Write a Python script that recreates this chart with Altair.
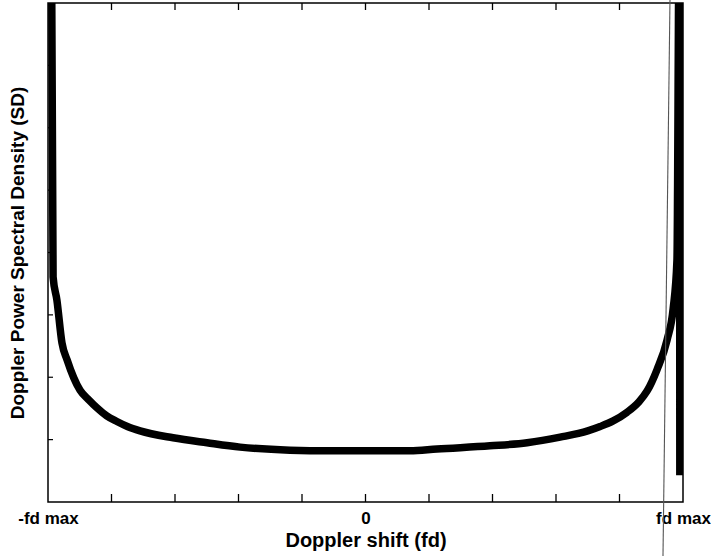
import altair as alt
import pandas as pd

# Curve (x: Doppler shift in units of fd max, y: relative PSD)
shift = [-0.989, -0.984, -0.972, -0.956, -0.940, -0.899, -0.870, -0.846, -0.815,
         -0.783, -0.750, -0.710, -0.606, -0.499, -0.395, -0.238, -0.112, 0.046,
         0.140, 0.225, 0.392, 0.509, 0.613, 0.700, 0.739, 0.780, 0.824, 0.860,
         0.887, 0.918, 0.950, 0.969, 0.981, 0.988, 0.989, 0.990]
density = [9.0, 3.61, 3.24, 2.55, 2.28, 1.79, 1.63, 1.51, 1.38,
           1.29, 1.21, 1.14, 1.03, 0.95, 0.88, 0.83, 0.82, 0.82,
           0.82, 0.85, 0.90, 0.95, 1.04, 1.14, 1.21, 1.30, 1.44, 1.60,
           1.78, 2.12, 2.60, 3.10, 3.88, 9.0, 9.0, 0.43]

x_label_values = [-1, 0, 1]
x_tick_values = [-0.8, -0.6, -0.4, -0.2, 0.0, 0.2, 0.4, 0.6, 0.8]
y_tick_values = [1, 2, 3, 4, 5, 6, 7]
marker_top = [0.959]
marker_bottom = [0.937]

W, H = 635, 499
FONT = "Liberation Sans"

curve_df = pd.DataFrame({"shift": shift, "density": density,
                         "order": list(range(len(shift)))})
xt_df = pd.DataFrame({"v": x_tick_values})
yt_df = pd.DataFrame({"v": y_tick_values})
mk_df = pd.DataFrame({"top": marker_top, "bottom": marker_bottom})

x_scale = alt.Scale(domain=[-1, 1], nice=False, zero=False)
y_scale = alt.Scale(domain=[0, 8], nice=False, zero=False)

curve = alt.Chart(curve_df).mark_line(
    color="black", strokeWidth=7.5, clip=True, strokeJoin="round",
    interpolate="monotone"
).encode(
    x=alt.X("shift:Q", scale=x_scale, axis=alt.Axis(
        values=x_label_values,
        labelExpr="datum.value == 0 ? '0' : (datum.value < 0 ? '-fd max' : 'fd max')",
        ticks=False, domain=False, grid=False, labelFlush=False, labelOverlap=False,
        labelPadding=8, labelFontSize=17, labelFont=FONT, labelFontWeight="bold",
        labelColor="black",
        title="Doppler shift (fd)", titleFontSize=20, titleFont=FONT,
        titleFontWeight="bold", titleColor="black", titlePadding=4)),
    y=alt.Y("density:Q", scale=y_scale, axis=alt.Axis(
        labels=False, ticks=False, domain=False, grid=False,
        title="Doppler Power Spectral Density (SD)", titleFontSize=19,
        titleFont=FONT, titleFontWeight="bold", titleColor="black",
        titlePadding=21)),
    order="order:Q",
)

bottom_ticks = alt.Chart(xt_df).mark_rule(color="black", strokeWidth=1.3).encode(
    x=alt.X("v:Q", scale=x_scale), y=alt.value(H), y2=alt.value(H - 8))
top_ticks = alt.Chart(xt_df).mark_rule(color="black", strokeWidth=1.3).encode(
    x=alt.X("v:Q", scale=x_scale), y=alt.value(0), y2=alt.value(7))
left_ticks = alt.Chart(yt_df).mark_rule(color="black", strokeWidth=1.2).encode(
    y=alt.Y("v:Q", scale=y_scale), x=alt.value(0), x2=alt.value(5))
right_ticks = alt.Chart(yt_df).mark_rule(color="black", strokeWidth=1.2).encode(
    y=alt.Y("v:Q", scale=y_scale), x=alt.value(W), x2=alt.value(W - 5))

marker = alt.Chart(mk_df).mark_rule(color="#555555", strokeWidth=1.1).encode(
    x=alt.X("top:Q", scale=x_scale), x2="bottom:Q",
    y=alt.value(-3), y2=alt.value(H + 54))

chart = alt.layer(curve, bottom_ticks, top_ticks, left_ticks, right_ticks, marker).properties(
    width=W, height=H,
    autosize=alt.AutoSizeParams(type="none"),
    padding={"left": 48, "top": 3, "right": 28, "bottom": 54},
    background="white",
).configure_view(stroke="black", strokeWidth=1.5)

chart.save("out.html", embed_options={"renderer": "svg", "actions": False})
